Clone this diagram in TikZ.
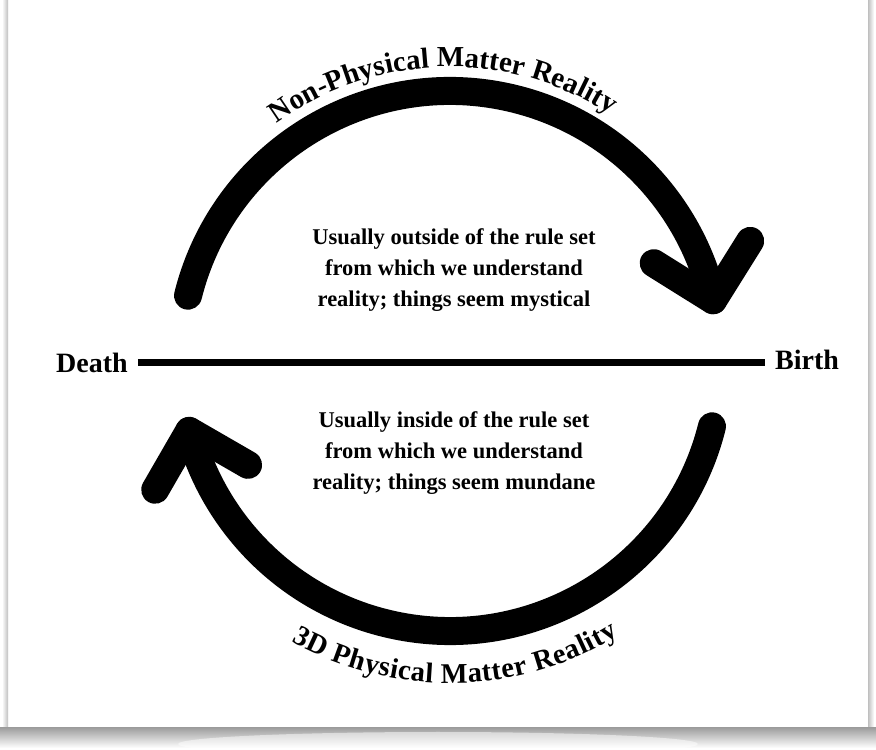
\documentclass[tikz,border=0pt]{standalone}
\usepackage{fontspec}
\setmainfont{Liberation Serif}
\usetikzlibrary{positioning, calc, decorations.text}

\newcommand\arcfont{\bfseries\fontsize{29}{30}\selectfont}

\begin{document}
\begin{tikzpicture}[
  x=1pt, y=1pt,
  endword/.style={font=\bfseries\fontsize{28}{30}\selectfont, inner xsep=10pt, inner ysep=0pt},
  rulenote/.style={align=center, font=\bfseries\fontsize{22.5}{31}\selectfont, inner sep=0pt},
  cyclearc/.style={line width=28pt, line cap=round, line join=round},
  divider/.style={line width=7pt},
  arctext/.style={decorate, decoration={text along path, text align=center}}
]
\useasboundingbox (0,0) rectangle (876,750);

% card and its shadow
\fill[white] (0,0) rectangle (876,750);
\shade[left color=white, right color=gray!50] (2,22) rectangle (8,750);
\shade[left color=gray!50, right color=white] (868,22) rectangle (874,750);
\shade[top color=gray!75, bottom color=white] (0,2) rectangle (876,22);
\fill[white, opacity=0.5] (438,6) ellipse (260 and 12);

\coordinate (c) at (450,389);

% death -- birth
\node[endword] (death) at (92,387) {Death};
\node[endword] (birth) at (807,390) {Birth};
\draw[divider] (death.east) -- (death.east -| birth.west);

% the two halves of the cycle
\draw[cyclearc] ($(c)+(166:270)$) arc[start angle=166, end angle=13, radius=270] coordinate (toptip);
\draw[cyclearc] ($(toptip)+(148:70)$) -- (toptip) -- ($(toptip)+(58:70)$);

\draw[cyclearc] ($(c)+(-14:270)$) arc[start angle=-14, end angle=-165, radius=270] coordinate (bottip);
\draw[cyclearc] ($(bottip)+(240:68)$) -- (bottip) -- ($(bottip)+(330:68)$);

% curved titles
\path[arctext, decoration={text={|\arcfont|Non-Physical Matter Reality}}]
  ($(c)+(127:294)$) arc[start angle=127, end angle=56, radius=294];
\path[arctext, decoration={text align={fit to path}, text={|\bfseries\fontsize{28.5}{30}\selectfont|3D Physical Matter Reality}}]
  ($(c)+(240.5:322)$) arc[start angle=240.5, end angle=301.5, radius=322];

% notes
\node[rulenote] (upper) at (454,480) {Usually outside of the rule set\\from which we understand\\reality; things seem mystical};
\node[rulenote] (lower) at (454,297) {Usually inside of the rule set\\from which we understand\\reality; things seem mundane};

\end{tikzpicture}
\end{document}
